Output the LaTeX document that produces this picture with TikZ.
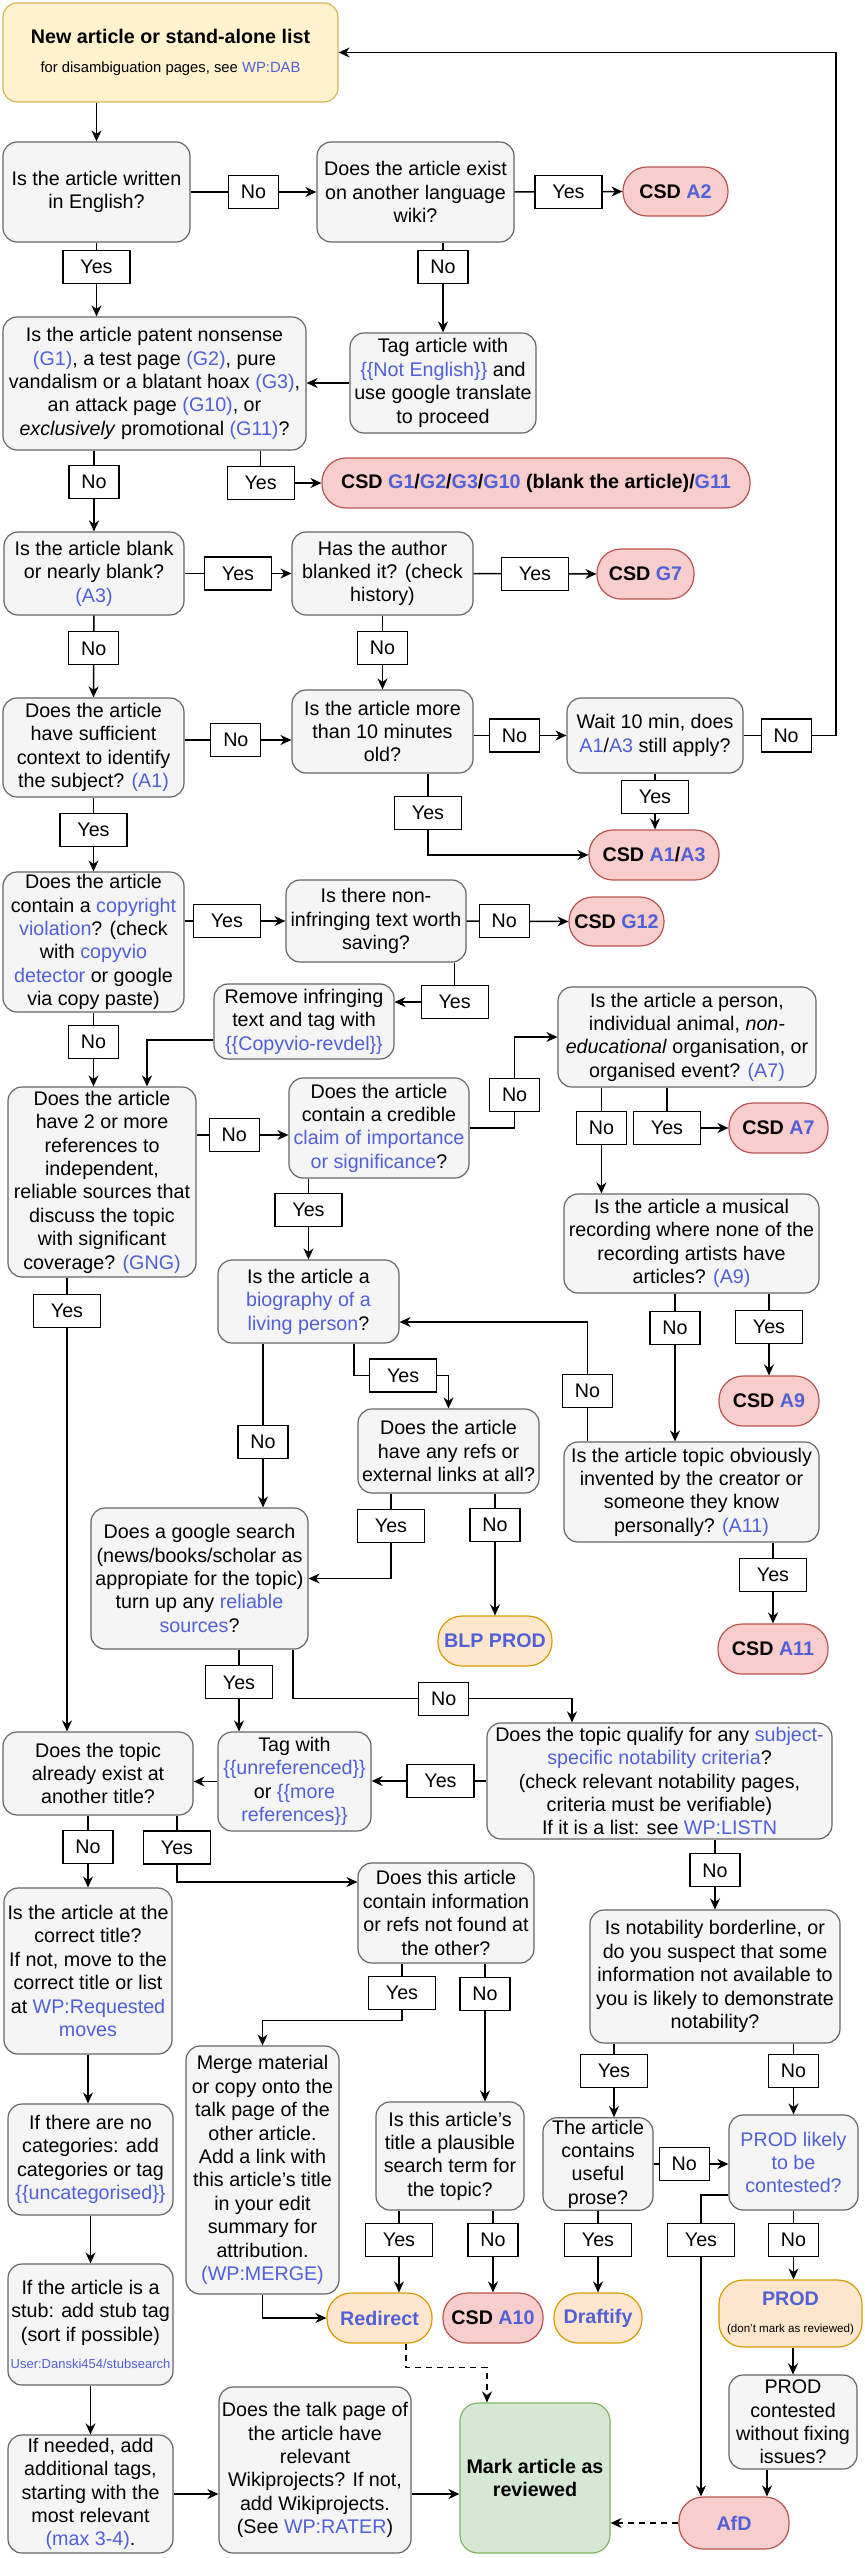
\documentclass[tikz,border=0pt]{standalone}
\usepackage{fontspec}
\setmainfont{Liberation Sans}
\usetikzlibrary{positioning, arrows.meta}

\definecolor{linkblue}{HTML}{5060D8}
\definecolor{boxfill}{HTML}{F5F5F5}
\definecolor{boxline}{HTML}{666666}
\definecolor{csdfill}{HTML}{F8CECC}
\definecolor{csdline}{HTML}{B85450}
\definecolor{actfill}{HTML}{FFE6CC}
\definecolor{actline}{HTML}{D79B00}
\definecolor{newfill}{HTML}{FFF2CC}
\definecolor{newline}{HTML}{D6B656}
\definecolor{donefill}{HTML}{D5E8D4}
\definecolor{doneline}{HTML}{82B366}

\newcommand{\basefont}{\fontsize{9.85}{11.7}\selectfont}
\newcommand{\lk}[1]{\textcolor{linkblue}{#1}}
% box from left/top to right/bottom (pixels of the sheet)
\newcommand{\boxnode}[7]{\node[#1, minimum width={(#5-#3)*0.5pt}, minimum height={(#6-#4)*0.5pt}] (#2) at ({(#3+#5)/2},{(#4+#6)/2}) {#7};}

\begin{document}
\begin{tikzpicture}[
    x=0.5pt, y=-0.5pt,
    box/.style = {rectangle, rounded corners=7pt, draw=boxline, fill=boxfill, line width=0.6pt, align=center, inner sep=1pt, font=\basefont},
    newbox/.style = {box, draw=newline, fill=newfill},
    donebox/.style = {box, draw=doneline, fill=donefill, rounded corners=9pt, font=\basefont\bfseries},
    csd/.style = {box, rounded corners=12pt, draw=csdline, fill=csdfill, font=\basefont\bfseries},
    act/.style = {csd, draw=actline, fill=actfill, text=linkblue},
    lbl/.style = {rectangle, draw, fill=white, line width=0.6pt, minimum height=16.5pt, inner sep=0pt, font=\basefont},
    ylbl/.style = {lbl, minimum width=33.5pt},
    nlbl/.style = {lbl, minimum width=25pt},
    arr/.style = {-{Stealth[length=5.5pt, width=5pt]}, line width=0.75pt},
    darr/.style = {arr, dash pattern=on 3pt off 2.5pt}
]
\useasboundingbox (0,0) rectangle (864,2558);

% Start
\boxnode{newbox}{start}{3}{3}{338}{102}{\textbf{New article or stand-alone list}\\[3pt]{\fontsize{7.4}{9}\selectfont for disambiguation pages, see \lk{WP:DAB}}}

% Language and general criteria
\boxnode{box}{q1}{3}{142}{190}{242}{Is the article written\\in English?}
\boxnode{box}{q2}{317}{142}{514}{242}{Does the article exist\\on another language\\wiki?}
\boxnode{csd}{csda2}{623}{167}{728}{216}{CSD \lk{A2}}
\boxnode{box}{q3}{3}{317}{306}{450}{Is the article patent nonsense\\\lk{(G1)}, a test page \lk{(G2)}, pure\\vandalism or a blatant hoax \lk{(G3)},\\an attack page \lk{(G10)}, or\\\textit{exclusively} promotional \lk{(G11)}?}
\boxnode{box}{tag1}{350}{333}{536}{433}{Tag article with\\\lk{\{\{Not English\}\}} and\\use google translate\\to proceed}
\boxnode{csd}{csdg}{322}{458}{750}{508}{CSD \lk{G1}/\lk{G2}/\lk{G3}/\lk{G10} (blank the article)/\lk{G11}}
\boxnode{box}{q4}{4}{532}{184}{615}{Is the article blank\\or nearly blank?\\\lk{(A3)}}
\boxnode{box}{q5}{292}{532}{473}{615}{Has the author\\blanked it? (check\\history)}
\boxnode{csd}{csdg7}{597}{549}{694}{599}{CSD \lk{G7}}
\boxnode{box}{q6}{3}{698}{184}{797}{Does the article\\have sufficient\\context to identify\\the subject? \lk{(A1)}}
\boxnode{box}{q7}{292}{690}{473}{773}{Is the article more\\than 10 minutes\\old?}
\boxnode{box}{wait}{567}{698}{743}{773}{Wait 10 min, does\\\lk{A1}/\lk{A3} still apply?}
\boxnode{csd}{csda13}{589}{830}{719}{880}{CSD \lk{A1}/\lk{A3}}
\coordinate (rt) at (836,53);

% Copyright
\boxnode{box}{q8}{3}{872}{184}{1012}{Does the article\\contain a \lk{copyright}\\\lk{violation}? (check\\with \lk{copyvio}\\\lk{detector} or google\\via copy paste)}
\boxnode{box}{q9}{286}{880}{466}{962}{Is there non-\\infringing text worth\\saving?}
\boxnode{csd}{csdg12}{569}{897}{664}{946}{CSD \lk{G12}}
\boxnode{box}{rem}{214}{984}{394}{1059}{Remove infringing\\text and tag with\\\lk{\{\{Copyvio-revdel\}\}}}

% Notability
\boxnode{box}{q11}{558}{987}{816}{1087}{Is the article a person,\\individual animal, \textit{non-}\\\textit{educational} organisation, or\\organised event? \lk{(A7)}}
\boxnode{box}{q10}{8}{1087}{196}{1277}{Does the article\\have 2 or more\\references to\\independent,\\reliable sources that\\discuss the topic\\with significant\\coverage? \lk{(GNG)}}
\boxnode{box}{q12}{289}{1078}{469}{1178}{Does the article\\contain a credible\\\lk{claim of importance}\\\lk{or significance}?}
\boxnode{csd}{csda7}{729}{1103}{828}{1153}{CSD \lk{A7}}
\boxnode{box}{q13}{564}{1194}{819}{1293}{Is the article a musical\\recording where none of the\\recording artists have\\articles? \lk{(A9)}}
\boxnode{box}{q14}{218}{1260}{399}{1343}{Is the article a\\\lk{biography of a}\\\lk{living person}?}
\boxnode{box}{q17}{358}{1409}{539}{1493}{Does the article\\have any refs or\\external links at all?}
\boxnode{csd}{csda9}{719}{1376}{819}{1426}{CSD \lk{A9}}
\boxnode{box}{q19}{564}{1442}{819}{1542}{Is the article topic obviously\\invented by the creator or\\someone they know\\personally? \lk{(A11)}}
\boxnode{box}{q18}{91}{1508}{308}{1649}{Does a google search\\(news/books/scholar as\\appropiate for the topic)\\turn up any \lk{reliable}\\\lk{sources}?}
\boxnode{act}{blp}{438}{1616}{552}{1666}{BLP PROD}
\boxnode{csd}{csda11}{718}{1624}{828}{1674}{CSD \lk{A11}}
\boxnode{box}{q16}{3}{1732}{193}{1815}{Does the topic\\already exist at\\another title?}
\boxnode{box}{tagref}{218}{1732}{371}{1831}{Tag with\\\lk{\{\{unreferenced\}\}}\\or \lk{\{\{more}\\\lk{references\}\}}}
\boxnode{box}{q20}{487}{1723}{832}{1839}{Does the topic qualify for any \lk{subject-}\\\lk{specific notability criteria}?\\(check relevant notability pages,\\criteria must be verifiable)\\If it is a list: see \lk{WP:LISTN}}

% Duplicates, deletion and clean-up
\boxnode{box}{q23}{358}{1863}{534}{1963}{Does this article\\contain information\\or refs not found at\\the other?}
\boxnode{box}{q22}{4}{1888}{172}{2054}{Is the article at the\\correct title?\\If not, move to the\\correct title or list\\at \lk{WP:Requested}\\\lk{moves}}
\boxnode{box}{q21}{590}{1910}{840}{2043}{Is notability borderline, or\\do you suspect that some\\information not available to\\you is likely to demonstrate\\notability?}
\boxnode{box}{merge}{186}{2046}{339}{2294}{Merge material\\or copy onto the\\talk page of the\\other article.\\Add a link with\\this article's title\\in your edit\\summary for\\attribution.\\\lk{(WP:MERGE)}}
\boxnode{box}{q24}{8}{2104}{173}{2215}{If there are no\\categories: add\\categories or tag\\\lk{\{\{uncategorised\}\}}}
\boxnode{box}{q25}{376}{2102}{524}{2210}{Is this article's\\title a plausible\\search term for\\the topic?}
\boxnode{box}{q27}{543}{2118}{653}{2210}{The article\\contains\\useful\\prose?}
\boxnode{box}{prodlikely}{729}{2115}{858}{2210}{\lk{PROD likely}\\\lk{to be}\\\lk{contested?}}
\boxnode{box}{q26}{8}{2264}{173}{2385}{If the article is a\\stub: add stub tag\\(sort if possible)\\[2pt]{\fontsize{6.5}{8}\selectfont\lk{User:Danski454/stubsearch}}}
\boxnode{act}{redirect}{327}{2293}{432}{2343}{Redirect}
\boxnode{csd}{csda10}{443}{2293}{543}{2343}{CSD \lk{A10}}
\boxnode{act}{draftify}{554}{2293}{642}{2343}{Draftify}
\boxnode{act}{prod}{719}{2280}{862}{2347}{PROD\\[2pt]{\fontsize{5.8}{7}\selectfont\mdseries\color{black}(don't mark as reviewed)}}
\boxnode{box}{prodcont}{729}{2375}{857}{2469}{PROD\\contested\\without fixing\\issues?}
\boxnode{donebox}{reviewed}{460}{2403}{610}{2553}{Mark article as\\reviewed}
\boxnode{csd}{afd}{679}{2497}{789}{2549}{\lk{AfD}}
\boxnode{box}{q28}{8}{2435}{173}{2553}{If needed, add\\additional tags,\\starting with the\\most relevant\\\lk{(max 3-4)}.}
\boxnode{box}{q29}{219}{2387}{411}{2553}{Does the talk page of\\the article have\\relevant\\Wikiprojects? If not,\\add Wikiprojects.\\(See \lk{WP:RATER})}

\coordinate (c6) at ([yshift=3.75pt]q6.east);
\coordinate (c12) at ([yshift=-3.5pt]q12.west);

% Arrows
\draw[arr] (start.south -| q1.north) -- (q1.north);
\draw[arr] (q1.east) -- node[nlbl] {No} (q2.west);
\draw[arr] (q2.east) -- node[ylbl] {Yes} (csda2.west);
\draw[arr] (q1.south) -- node[ylbl, pos=0.33] {Yes} (q1.south |- q3.north);
\draw[arr] (q2.south -| tag1.north) -- node[nlbl, pos=0.27] {No} (tag1.north);
\draw[arr] (tag1.west) -- (tag1.west -| q3.east);
\draw[arr] (q4.north |- q3.south) -- node[nlbl, pos=0.39] {No} (q4.north);
\draw[arr] ([xshift=-23pt]q3.south east) |- node[ylbl] {Yes} (csdg.west);
\draw[arr] (q4.east) -- node[ylbl] {Yes} (q5.west);
\draw[arr] (q5.east) -- node[ylbl] {Yes} (csdg7.west);
\draw[arr] (q4.south) -- node[nlbl, pos=0.4] {No} (q6.north);
\draw[arr] (q5.south) -- node[nlbl, pos=0.44] {No} (q7.north);
\draw[arr] (c6) -- node[nlbl, pos=0.48] {No} (c6 -| q7.west);
\draw[arr] (wait.west -| q7.east) -- node[nlbl, pos=0.44] {No} (wait.west);
\draw[arr] (wait.east) -- node[nlbl, pos=0.46] {No} (wait.east -| rt) |- (start.east);
\draw[arr] ([xshift=22.75pt]q7.south) |- node[ylbl, pos=0.24] {Yes} (csda13.west);
\draw[arr] (wait.south) -- node[ylbl, pos=0.42] {Yes} (wait.south |- csda13.north);
\draw[arr] (q6.south) -- node[ylbl, pos=0.44] {Yes} (q8.north);
\draw[arr] (q9.west -| q8.east) -- node[ylbl, pos=0.42] {Yes} (q9.west);
\draw[arr] (q9.east) -- node[nlbl, pos=0.37] {No} (csdg12.west);
\draw[arr] ([xshift=-6pt]q9.south east) |- node[ylbl] {Yes} ([yshift=9.75pt]rem.east);
\draw[arr] ([yshift=-9.25pt]rem.west) -| ([xshift=22.5pt]q10.north);
\draw[arr] (q8.south) -- node[nlbl, pos=0.4] {No} (q8.south |- q10.north);
\draw[arr] (c12 -| q10.east) -- node[nlbl, pos=0.41] {No} (c12);
\draw[arr] (q12.east) -- ++(45,0) |- node[nlbl, pos=0.18] {No} (q11.west);
\draw[arr] ([xshift=22pt]q11.south west) -- node[nlbl, pos=0.38] {No} ([xshift=22pt]q11.south west |- q13.north);
\draw[arr] ([xshift=-10pt]q11.south) |- node[ylbl] {Yes} (csda7.west);
\draw[arr] (q14.north |- q12.south) -- node[ylbl, pos=0.39] {Yes} (q14.north);
\draw[arr] ([xshift=-8.25pt]q13.south) -- node[nlbl, pos=0.23] {No} ([xshift=-8.25pt]q19.north);
\draw[arr] (csda9.north |- q13.south) -- node[ylbl, pos=0.41] {Yes} (csda9.north);
\draw[arr] ([xshift=12pt]q19.north west) |- node[nlbl, pos=0.21] {No} ([yshift=-10.25pt]q14.east);
\draw[arr] ([xshift=22.75pt]q14.south) |- node[ylbl, pos=0.76] {Yes} ([yshift=16.5pt]q17.north) -- (q17.north);
\draw[arr] ([xshift=-22.75pt]q14.south) -- node[nlbl, pos=0.6] {No} ([xshift=-22.75pt]q14.south |- q18.north);
\draw[arr] ([xshift=-28.75pt]q17.south) |- node[ylbl, pos=0.19] {Yes} (q18.east);
\draw[arr] (blp.north |- q17.south) -- node[nlbl, pos=0.26] {No} (blp.north);
\draw[arr] (csda11.north |- q19.south) -- node[ylbl, pos=0.4] {Yes} (csda11.north);
\draw[arr] ([xshift=-17.5pt]q10.south) -- node[ylbl, pos=0.073] {Yes} ([xshift=-17.5pt]q10.south |- q16.north);
\draw[arr] ([xshift=19.75pt]q18.south) -- node[ylbl, pos=0.4] {Yes} ([xshift=19.75pt]q18.south |- tagref.north);
\draw[arr] ([xshift=46.75pt]q18.south) -- ++(0,49) -| node[nlbl, pos=0.27] {No} ([xshift=-43.75pt]q20.north);
\draw[arr] (q20.west) -- node[ylbl, pos=0.4] {Yes} (q20.west -| tagref.east);
\draw[arr] (tagref.west) -- (tagref.west -| q16.east);
\draw[arr] (q21.north |- q20.south) -- node[nlbl, pos=0.44] {No} (q21.north);
\draw[arr] (q22.north |- q16.south) -- node[nlbl, pos=0.44] {No} (q22.north);
\draw[arr] ([xshift=39.5pt]q16.south) |- node[ylbl, pos=0.24] {Yes} ([yshift=15.5pt]q23.west);
\draw[arr] (q22.south) -- (q22.south |- q24.north);
\draw[arr] ([xshift=-22pt]q23.south) |- node[ylbl, pos=0.26] {Yes} ([yshift=12.5pt]merge.north) -- (merge.north);
\draw[arr] ([xshift=19.5pt]q23.south) -- node[nlbl, pos=0.22] {No} ([xshift=19.5pt]q23.south |- q25.north);
\draw[arr] ([xshift=-50.5pt]q21.south) -- node[ylbl, pos=0.37] {Yes} ([xshift=-50.5pt]q21.south |- q27.north);
\draw[arr] (prodlikely.north |- q21.south) -- node[nlbl, pos=0.39] {No} (prodlikely.north);
\draw[arr] (q24.south) -- (q26.north);
\draw[arr] ([xshift=-25.5pt]q25.south) -- node[ylbl, pos=0.36] {Yes} ([xshift=-25.5pt]q25.south |- redirect.north);
\draw[arr] (csda10.north |- q25.south) -- node[nlbl, pos=0.36] {No} (csda10.north);
\draw[arr] (q27.south) -- node[ylbl, pos=0.36] {Yes} (q27.south |- draftify.north);
\draw[arr] (q27.east) -- node[nlbl, pos=0.41] {No} (q27.east -| prodlikely.west);
\draw[arr] ([yshift=-16.25pt]prodlikely.west) -| node[ylbl, pos=0.575] {Yes} ([xshift=-16.5pt]afd.north);
\draw[arr] (prodlikely.south) -- node[nlbl, pos=0.43] {No} (prodlikely.south |- prod.north);
\draw[arr] (merge.south) |- (redirect.west);
\draw[darr] ([xshift=13.25pt]redirect.south) |- ([xshift=-24pt, yshift=17.5pt]reviewed.north) -- ([xshift=-24pt]reviewed.north);
\draw[arr] (prod.south -| prodcont.north) -- (prodcont.north);
\draw[arr] ([xshift=-13pt]prodcont.south) -- ([xshift=-13pt]prodcont.south |- afd.north);
\draw[darr] (afd.west) -- (afd.west -| reviewed.east);
\draw[arr] (q26.south) -- (q28.north);
\draw[arr] (q28.east) -- (q28.east -| q29.west);
\draw[arr] (q28.east -| q29.east) -- (q28.east -| reviewed.west);
\end{tikzpicture}
\end{document}
